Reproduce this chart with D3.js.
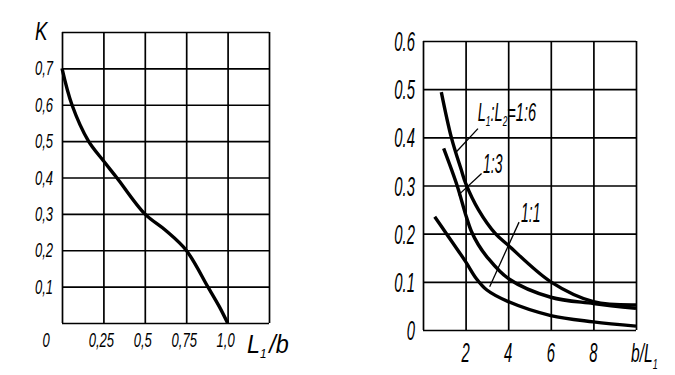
<!DOCTYPE html>
<html>
<head>
<meta charset="utf-8">
<script src="https://cdn.jsdelivr.net/npm/d3@7"></script>
<style>
  body { margin: 0; background: #fff; }
  text { font-family: "Liberation Sans", Arial, sans-serif; font-style: italic; fill: #000; }
</style>
</head>
<body>
<div id="chart"></div>
<script>
// left panel: K against L1/b
const leftRatio = [0, 0.06, 0.16, 0.25, 0.33, 0.5, 0.625, 0.75, 0.88, 0.95, 1.0];
const leftK     = [0.7, 0.6, 0.5, 0.446, 0.4, 0.3, 0.255, 0.2, 0.1, 0.045, 0];
const leftGridX = [0, 0.25, 0.5, 0.75, 1.0, 1.25];
const leftGridY = [0, 0.1, 0.2, 0.3, 0.4, 0.5, 0.6, 0.7, 0.8];
const leftXTicks = [0.25, 0.5, 0.75, 1.0];
const leftXLabels = ["0,25", "0,5", "0,75", "1,0"];
const leftYTicks = [0.1, 0.2, 0.3, 0.4, 0.5, 0.6, 0.7];
const leftYLabels = ["0,1", "0,2", "0,3", "0,4", "0,5", "0,6", "0,7"];

// right panel: three curves for L1:L2
const bL16 = [0.86, 1.33, 1.8, 2.0, 2.6, 3.4, 4, 6, 8, 10];
const k16  = [0.494, 0.4, 0.332, 0.305, 0.25, 0.2, 0.176, 0.1, 0.059, 0.052];
const bL13 = [0.97, 1.6, 2.0, 2.27, 2.6, 3, 4, 6, 8, 10];
const k13  = [0.377, 0.3, 0.24, 0.205, 0.177, 0.152, 0.107, 0.068, 0.055, 0.045];
const bL11 = [0.55, 1.1, 2.0, 2.5, 3, 4, 6, 8, 10];
const k11  = [0.235, 0.2, 0.142, 0.107, 0.083, 0.059, 0.03, 0.017, 0.008];
const rightGridX = [0, 2, 4, 6, 8, 10];
const rightGridY = [0, 0.1, 0.2, 0.3, 0.4, 0.5, 0.6];
const rightXTicks = [2, 4, 6, 8];
const rightYTicks = [0, 0.1, 0.2, 0.3, 0.4, 0.5, 0.6];
const rightYLabels = ["0", "0.1", "0.2", "0.3", "0.4", "0.5", "0.6"];

const svg = d3.select("#chart").append("svg")
    .attr("width", 675)
    .attr("height", 375);

const zip = (a, b) => a.map((v, i) => [v, b[i]]);

// draw a condensed label
function label(x, y, str, size, anchor, sx) {
  return svg.append("text")
    .attr("transform", `translate(${x},${y}) scale(${sx},1)`)
    .attr("text-anchor", anchor)
    .attr("font-size", size)
    .text(str);
}

function grid(x, y, gx, gy) {
  const [x0, x1] = x.range(), [y0, y1] = y.range();
  svg.append("g")
    .attr("transform", `translate(0,${y0})`)
    .call(d3.axisBottom(x).tickValues(gx).tickSize(y1 - y0).tickFormat(""))
    .call(g => g.select(".domain").remove());
  svg.append("g")
    .attr("transform", `translate(${x0},0)`)
    .call(d3.axisLeft(y).tickValues(gy).tickSize(x0 - x1).tickFormat(""))
    .call(g => g.select(".domain").remove());
  svg.selectAll(".tick line").attr("stroke", "#000").attr("stroke-width", 1.7);
}

// ---------- left ----------
const xL = d3.scaleLinear().domain([0, 1.25]).range([62, 269]);
const yL = d3.scaleLinear().domain([0, 0.8]).range([323, 32]);
grid(xL, yL, leftGridX, leftGridY);

svg.append("path")
  .datum(zip(leftRatio, leftK))
  .attr("fill", "none")
  .attr("stroke", "#000")
  .attr("stroke-width", 3.4)
  .attr("d", d3.line().x(d => xL(d[0])).y(d => yL(d[1])).curve(d3.curveCatmullRom.alpha(0.5)));

leftYTicks.forEach((v, i) => label(53, yL(v) + 7, leftYLabels[i], 21, "end", 0.62));
leftXTicks.forEach((v, i) => label(xL(v) - 2, 347, leftXLabels[i], 21, "middle", 0.62));
label(46, 347, "0", 21, "middle", 0.62);
label(35, 40, "K", 26, "start", 0.72);

const tl = label(247, 353, "", 26, "start", 0.9);
tl.append("tspan").text("L");
tl.append("tspan").attr("font-size", 13).attr("dy", 5).text("1");
tl.append("tspan").attr("dy", -5).attr("dx", 3).text("/b");

// ---------- right ----------
const xR = d3.scaleLinear().domain([0, 10]).range([423, 636]);
const yR = d3.scaleLinear().domain([0, 0.6]).range([330, 41]);
grid(xR, yR, rightGridX, rightGridY);

const lineR = d3.line().x(d => xR(d[0])).y(d => yR(d[1])).curve(d3.curveCatmullRom.alpha(0.5));
[zip(bL16, k16), zip(bL13, k13), zip(bL11, k11)].forEach(s => {
  svg.append("path")
    .datum(s)
    .attr("fill", "none")
    .attr("stroke", "#000")
    .attr("stroke-width", 3.4)
    .attr("d", lineR);
});

rightYTicks.forEach((v, i) => label(415, yR(v) + 10, rightYLabels[i], 27, "end", 0.55));
rightXTicks.forEach(v => label(xR(v), 362, String(v), 27, "middle", 0.55));

const tr = label(631, 362, "", 26, "start", 0.6);
tr.append("tspan").text("b/L");
tr.append("tspan").attr("font-size", 15).attr("dy", 7).text("1");

// curve labels with leader lines
function leader(xa, ya, xb, yb) {
  svg.append("line")
    .attr("x1", xR(xa)).attr("y1", yR(ya))
    .attr("x2", xR(xb)).attr("y2", yR(yb))
    .attr("stroke", "#000").attr("stroke-width", 1.3);
}
leader(2.58, 0.418, 1.57, 0.370);
leader(2.75, 0.325, 1.66, 0.280);
leader(4.51, 0.224, 3.13, 0.090);

const t16 = label(xR(2.57), yR(0.433), "", 26, "start", 0.56);
t16.append("tspan").text("L");
t16.append("tspan").attr("font-size", 15).attr("dy", 5).text("1");
t16.append("tspan").attr("dy", -5).text(":L");
t16.append("tspan").attr("font-size", 15).attr("dy", 5).text("2");
t16.append("tspan").attr("dy", -5).text("=1:6");
label(xR(2.82), yR(0.326), "1:3", 28, "start", 0.5);
label(xR(4.6), yR(0.225), "1:1", 28, "start", 0.5);
</script>
</body>
</html>
